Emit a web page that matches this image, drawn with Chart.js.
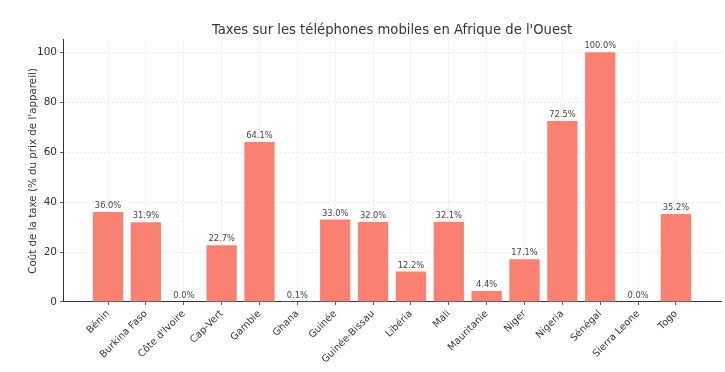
<!DOCTYPE html>
<html>
<head>
<meta charset="utf-8">
<script src="https://cdn.jsdelivr.net/npm/chart.js@4"></script>
<style>
  html, body { margin: 0; padding: 0; background: #fff; }
  #wrap { width: 725px; height: 372px; }
</style>
</head>
<body>
<div id="wrap"><canvas id="myChart"></canvas></div>
<script>
// Data
let countries = ["Bénin", "Burkina Faso", "Côte d'Ivoire", "Cap-Vert", "Gambie", "Ghana", "Guinée",
  "Guinée-Bissau", "Libéria", "Mali", "Mauritanie", "Niger", "Nigeria", "Sénégal", "Sierra Leone", "Togo"];
let taxValues = [36.0, 31.9, 0.0, 22.7, 64.1, 0.1, 33.0, 32.0, 12.2, 32.1, 4.4, 17.1, 72.5, 100.0, 0.0, 35.2];
let yTicks = [0, 20, 40, 60, 80, 100];

let font = "'DejaVu Sans', sans-serif";
let textColor = "#333";

// value labels above the bars
const barLabels = {
  id: "barLabels",
  afterDatasetsDraw(chart) {
    const ctx = chart.ctx;
    const meta = chart.getDatasetMeta(0);
    ctx.save();
    ctx.font = "8.3px " + font;
    ctx.fillStyle = "#444";
    ctx.textAlign = "center";
    ctx.textBaseline = "bottom";
    meta.data.forEach((bar, i) => {
      ctx.fillText(taxValues[i].toFixed(1) + "%", bar.x, bar.y - 2);
    });
    ctx.restore();
  }
};

// center the title over the plot area
const centerTitle = {
  id: "centerTitle",
  afterLayout(chart) {
    chart.titleBlock.left = chart.chartArea.left;
    chart.titleBlock.right = chart.chartArea.right;
  }
};

new Chart("myChart", {
  type: "bar",
  data: {
    datasets: [{
      data: taxValues.map((v, i) => ({ x: i, y: v })),
      backgroundColor: "#FA8072",
      categoryPercentage: 0.8,
      barPercentage: 1.0
    }]
  },
  options: {
    responsive: true,
    maintainAspectRatio: false,
    animation: false,
    layout: { padding: { left: 0, right: 4, top: 0, bottom: 0 } },
    plugins: {
      legend: { display: false },
      tooltip: { enabled: false },
      title: {
        display: true,
        text: "Taxes sur les téléphones mobiles en Afrique de l'Ouest",
        color: textColor,
        font: { family: font, size: 13.2, weight: "normal" },
        padding: { top: 23, bottom: 1 }
      }
    },
    scales: {
      x: {
        type: "linear",
        offset: false,
        min: -1.19,
        max: 16.19,
        afterFit: s => { s.height = 70; },
        afterBuildTicks: s => { s.ticks = s.ticks.filter(t => t.value >= 0 && t.value <= 15); },
        ticks: {
          stepSize: 1,
          includeBounds: false,
          autoSkip: false,
          minRotation: 45,
          maxRotation: 45,
          padding: 3,
          color: textColor,
          font: { family: font, size: 9.8 },
          callback: v => countries[v]
        },
        grid: { offset: false, color: "#e2e2e2", lineWidth: 0.8, tickColor: "#333", tickLength: 3 },
        border: { display: true, color: "#333", width: 1, dash: [2, 2] }
      },
      y: {
        min: 0,
        max: 105,
        afterFit: s => { s.width = 63; },
        afterBuildTicks: s => { s.ticks = yTicks.map(v => ({ value: v })); },
        ticks: {
          color: textColor,
          padding: 3,
          font: { family: font, size: 10.5 }
        },
        grid: { color: "#e2e2e2", lineWidth: 0.8, tickColor: "#333", tickLength: 3 },
        border: { display: true, color: "#333", width: 1, dash: [2, 2] },
        title: {
          display: true,
          text: "Coût de la taxe (% du prix de l'appareil)",
          color: textColor,
          font: { family: font, size: 10.3 },
          padding: { top: 27, bottom: 0 }
        }
      }
    }
  },
  plugins: [barLabels, centerTitle]
});
</script>
</body>
</html>
